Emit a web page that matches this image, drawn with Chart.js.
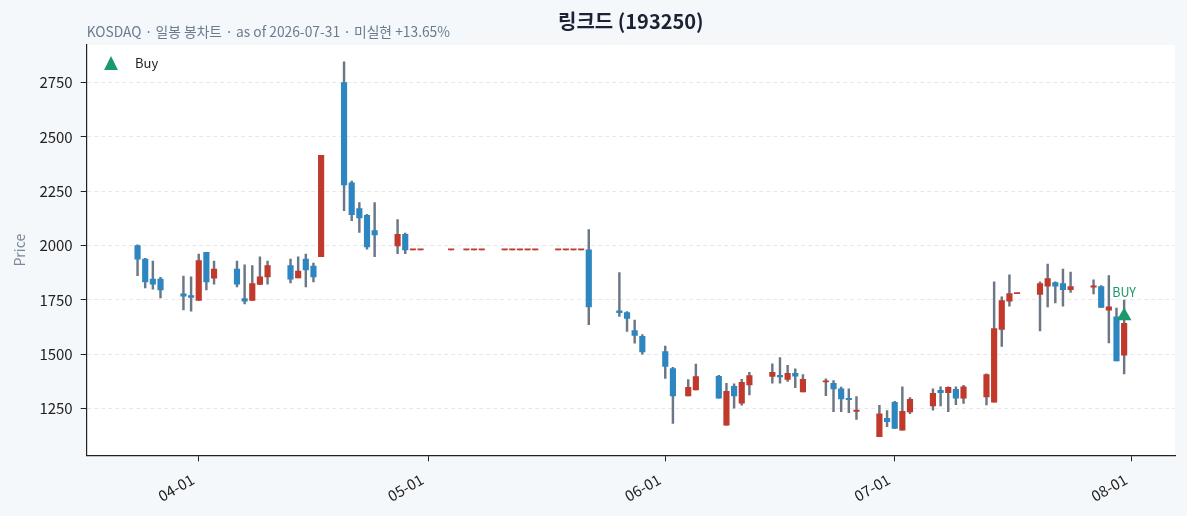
<!DOCTYPE html>
<html>
<head>
<meta charset="utf-8">
<script src="https://cdn.jsdelivr.net/npm/chart.js@4.4.1/dist/chart.umd.min.js"></script>
<style>
  html, body { margin: 0; padding: 0; background: #f5f8fb; }
  #wrap { width: 1187px; height: 516px; position: relative; }
</style>
</head>
<body>
<div id="wrap"><canvas id="chart"></canvas></div>
<script>
/*---------------------------------
   DATA (일봉, 2026)
 ----------------------------------*/
var dates = [
  '2026-03-24','2026-03-25','2026-03-26','2026-03-27','2026-03-30','2026-03-31',
  '2026-04-01','2026-04-02','2026-04-03','2026-04-06','2026-04-07','2026-04-08','2026-04-09','2026-04-10',
  '2026-04-13','2026-04-14','2026-04-15','2026-04-16','2026-04-17',
  '2026-04-20','2026-04-21','2026-04-22','2026-04-23','2026-04-24',
  '2026-04-27','2026-04-28','2026-04-29','2026-04-30',
  '2026-05-04','2026-05-06','2026-05-07','2026-05-08',
  '2026-05-11','2026-05-12','2026-05-13','2026-05-14','2026-05-15',
  '2026-05-18','2026-05-19','2026-05-20','2026-05-21','2026-05-22',
  '2026-05-26','2026-05-27','2026-05-28','2026-05-29',
  '2026-06-01','2026-06-02','2026-06-04','2026-06-05',
  '2026-06-08','2026-06-09','2026-06-10','2026-06-11','2026-06-12',
  '2026-06-15','2026-06-16','2026-06-17','2026-06-18','2026-06-19',
  '2026-06-22','2026-06-23','2026-06-24','2026-06-25','2026-06-26',
  '2026-06-29','2026-06-30','2026-07-01','2026-07-02','2026-07-03',
  '2026-07-06','2026-07-07','2026-07-08','2026-07-09','2026-07-10',
  '2026-07-13','2026-07-14','2026-07-15','2026-07-16','2026-07-17',
  '2026-07-20','2026-07-21','2026-07-22','2026-07-23','2026-07-24',
  '2026-07-27','2026-07-28','2026-07-29','2026-07-30','2026-07-31'
];
var opens = [
  2000,1938,1846,1846,1778,1770,
  1748,1969,1850,1892,1756,1748,1822,1856,
  1908,1851,1938,1906,1949,
  2749,2289,2170,2139,2069,
  1998,2052,1980,1980,
  1980,1980,1980,1980,
  1980,1980,1980,1980,1980,
  1980,1980,1980,1980,1980,
  1700,1692,1609,1583,
  1513,1435,1309,1337,
  1399,1175,1353,1276,1359,
  1399,1404,1385,1413,1327,
  1373,1367,1342,1298,1238,
  1122,1206,1279,1152,1235,
  1263,1335,1324,1339,1299,
  1304,1280,1615,1744,1779,
  1776,1813,1830,1825,1797,
  1809,1811,1703,1672,1496
];
var highs = [
  2004,1941,1929,1854,1860,1856,
  1961,1969,1929,1929,1912,1908,1948,1929,
  1938,1948,1961,1920,2415,
  2845,2297,2198,2144,2198,
  2119,2058,1980,1980,
  1980,1980,1980,1980,
  1980,1980,1980,1980,1980,
  1980,1980,1980,1980,2074,
  1876,1697,1658,1591,
  1538,1440,1384,1455,
  1404,1367,1365,1385,1417,
  1456,1485,1449,1434,1407,
  1388,1379,1350,1342,1306,
  1266,1241,1284,1351,1301,
  1342,1351,1351,1351,1358,
  1410,1833,1764,1866,1779,
  1833,1915,1833,1892,1878,
  1842,1816,1862,1713,1750
];
var lows = [
  1862,1805,1800,1759,1704,1699,
  1748,1796,1823,1810,1732,1748,1820,1823,
  1828,1851,1810,1833,1949,
  2161,2115,2060,1983,1949,
  1963,1963,1980,1980,
  1980,1980,1980,1980,
  1980,1980,1980,1980,1980,
  1980,1980,1980,1980,1637,
  1674,1605,1551,1501,
  1389,1182,1309,1337,
  1299,1175,1253,1266,1313,
  1368,1368,1376,1347,1327,
  1310,1237,1237,1232,1201,
  1122,1168,1159,1152,1227,
  1243,1263,1237,1269,1275,
  1268,1280,1537,1721,1779,
  1608,1718,1736,1722,1785,
  1778,1716,1552,1470,1410
];
var closes = [
  1938,1833,1823,1796,1768,1762,
  1931,1833,1892,1823,1745,1825,1856,1908,
  1846,1883,1888,1856,2415,
  2279,2142,2127,1994,2049,
  2052,1980,1980,1980,
  1980,1980,1980,1980,
  1980,1980,1980,1980,1980,
  1980,1980,1980,1980,1718,
  1692,1665,1587,1511,
  1444,1309,1348,1398,
  1299,1330,1309,1371,1402,
  1417,1396,1413,1400,1385,
  1375,1341,1295,1292,1239,
  1227,1191,1159,1238,1293,
  1321,1324,1348,1299,1351,
  1407,1618,1747,1779,1779,
  1825,1848,1813,1797,1811,
  1810,1716,1719,1470,1643
];
var buyDates = ['2026-07-31'];
var buyPrices = [1676];
var monthTicks = ['2026-04-01','2026-05-01','2026-06-01','2026-07-01','2026-08-01'];
var priceTicks = [1250, 1500, 1750, 2000, 2250, 2500, 2750];

var UP = '#c0392b', DOWN = '#2e86c1', WICK = '#6b7785', BUYC = '#1a9a6c';
var FONT = "'Noto Sans CJK KR', 'Noto Sans', sans-serif";

function dayNum(s) {
  var p = s.split('-');
  return Date.UTC(+p[0], +p[1] - 1, +p[2]) / 86400000;
}
function fmtDay(v) {
  var d = new Date(Math.round(v) * 86400000);
  var m = d.getUTCMonth() + 1, dd = d.getUTCDate();
  return (m < 10 ? '0' : '') + m + '-' + (dd < 10 ? '0' : '') + dd;
}

var xs = dates.map(dayNum);
var pad = 6.65;

/*---------------------------------
   PLUGIN: 제목, 범례, 배경
 ----------------------------------*/
var decor = {
  id: 'decor',
  beforeDraw: function(chart) {
    var a = chart.chartArea, ctx = chart.ctx;
    ctx.save();
    ctx.fillStyle = '#ffffff';
    ctx.fillRect(a.left, a.top, a.right - a.left, a.bottom - a.top);
    ctx.restore();
  },
  afterDraw: function(chart) {
    var a = chart.chartArea, ctx = chart.ctx;
    ctx.save();
    // title
    ctx.fillStyle = '#1b2233';
    ctx.font = 'bold 20px ' + FONT;
    ctx.textAlign = 'center';
    ctx.textBaseline = 'middle';
    ctx.fillText('링크드 (193250)', (a.left + a.right) / 2, 21);
    // subtitle
    ctx.fillStyle = '#6b7a8f';
    ctx.font = '13.8px ' + FONT;
    ctx.textAlign = 'left';
    ctx.fillText('KOSDAQ · 일봉 봉차트 · as of 2026-07-31 · 미실현 +13.65%', a.left, 32);
    // legend
    var lx = 111, ly = 64, r = 8;
    ctx.fillStyle = BUYC;
    ctx.beginPath();
    ctx.moveTo(lx, ly - r);
    ctx.lineTo(lx + r * 0.866, ly + r * 0.75);
    ctx.lineTo(lx - r * 0.866, ly + r * 0.75);
    ctx.closePath();
    ctx.fill();
    ctx.fillStyle = '#222';
    ctx.font = '13px ' + FONT;
    ctx.fillText('Buy', 135, 63);
    // BUY label
    var xS = chart.scales.x, yS = chart.scales.y;
    ctx.fillStyle = BUYC;
    ctx.font = '12.5px ' + FONT;
    ctx.textAlign = 'center';
    buyDates.forEach(function(d, i) {
      ctx.fillText('BUY', xS.getPixelForValue(dayNum(d)), yS.getPixelForValue(buyPrices[i]) - 24);
    });
    ctx.restore();
  }
};

/*---------------------------------
   CHART
 ----------------------------------*/
var config = {
  type: 'bar',
  data: {
    datasets: [{
      type: 'scatter',
      label: 'Buy',
      data: buyDates.map(function(d, i) { return { x: dayNum(d), y: buyPrices[i] }; }),
      pointStyle: 'triangle',
      radius: 8.5,
      backgroundColor: BUYC,
      borderColor: BUYC,
      borderWidth: 0,
      order: 0
    }, {
      label: 'body',
      data: xs.map(function(x, i) { return { x: x, y: [opens[i], closes[i]] }; }),
      backgroundColor: xs.map(function(x, i) { return closes[i] >= opens[i] ? UP : DOWN; }),
      barThickness: 5.5,
      minBarLength: 1.2,
      grouped: false,
      order: 1
    }, {
      label: 'wick',
      data: xs.map(function(x, i) { return { x: x, y: [lows[i], highs[i]] }; }),
      backgroundColor: WICK,
      barThickness: 1.8,
      grouped: false,
      order: 2
    }]
  },
  options: {
    responsive: true,
    maintainAspectRatio: false,
    animation: false,
    layout: { padding: { top: 45, left: 7, right: 12, bottom: 0 } },
    plugins: {
      legend: { display: false },
      tooltip: { enabled: false }
    },
    scales: {
      x: {
        type: 'linear',
        offset: false,
        min: xs[0] - pad,
        max: xs[xs.length - 1] + pad,
        afterBuildTicks: function(scale) {
          scale.ticks = monthTicks.map(function(d) { return { value: dayNum(d) }; });
        },
        afterFit: function(scale) { scale.height = 60.7; },
        ticks: {
          callback: function(v) { return fmtDay(v); },
          minRotation: 30,
          maxRotation: 30,
          padding: 9,
          labelOffset: -6,
          color: '#222',
          font: { family: FONT, size: 15 }
        },
        grid: { offset: false, drawOnChartArea: false, tickLength: 6, tickColor: '#222', color: '#222' },
        border: { color: '#222', width: 1.2 }
      },
      y: {
        beginAtZero: false,
        min: 1036,
        max: 2922,
        afterBuildTicks: function(scale) {
          scale.ticks = priceTicks.map(function(v) { return { value: v }; });
        },
        afterFit: function(scale) { scale.width = 79.7; },
        ticks: {
          callback: function(v) { return String(v); },
          padding: 8,
          color: '#222',
          font: { family: FONT, size: 15 }
        },
        title: {
          display: true,
          text: 'Price',
          color: '#7a8797',
          font: { family: FONT, size: 14 },
          padding: { top: 4, bottom: 4 }
        },
        grid: { color: '#e6e8eb', tickLength: 6, tickColor: '#222', tickBorderDash: [] },
        border: { color: '#222', width: 1.2, dash: [4, 3] }
      }
    }
  },
  plugins: [decor]
};

window.onload = function() {
  var ctx = document.getElementById('chart').getContext('2d');
  window.myChart = new Chart(ctx, config);
};
</script>
</body>
</html>
